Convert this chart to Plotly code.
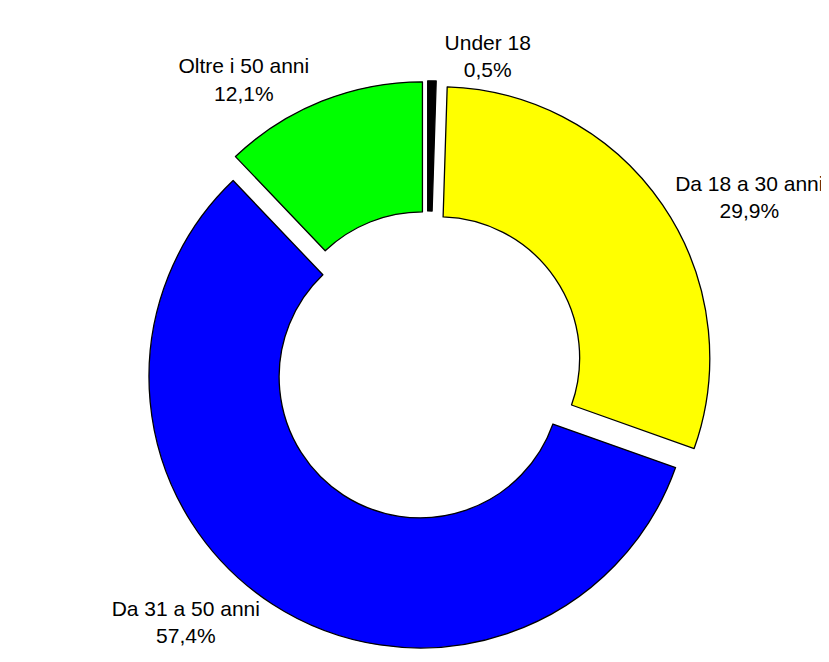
import plotly.graph_objects as go

labels = ["Under 18", "Da 18 a 30 anni", "Da 31 a 50 anni", "Oltre i 50 anni"]
values = [0.5, 29.9, 57.4, 12.1]
colors = ["#000000", "#FFFF00", "#0000FF", "#00FF00"]

fig = go.Figure(go.Pie(
    labels=labels,
    values=values,
    texttemplate="%{label}<br>%{value:.1f}%",
    textposition="outside",
    sort=False,
    direction="clockwise",
    rotation=0,
    hole=0.52,
    pull=[0.05, 0.05, 0.05, 0.05],
    automargin=False,
    marker=dict(colors=colors, line=dict(color="#000000", width=1.3)),
    textfont=dict(family="Arial, Liberation Sans, sans-serif", size=21, color="#000000"),
    showlegend=False,
    domain=dict(x=[0.012, 1.0], y=[0.03, 0.89]),
    hoverinfo="label+value",
))

fig.update_layout(
    width=829, height=662,
    margin=dict(l=0, r=0, t=0, b=0, autoexpand=False),
    paper_bgcolor="white",
    plot_bgcolor="white",
    separators=",.",
)

fig.write_html("out.html")
